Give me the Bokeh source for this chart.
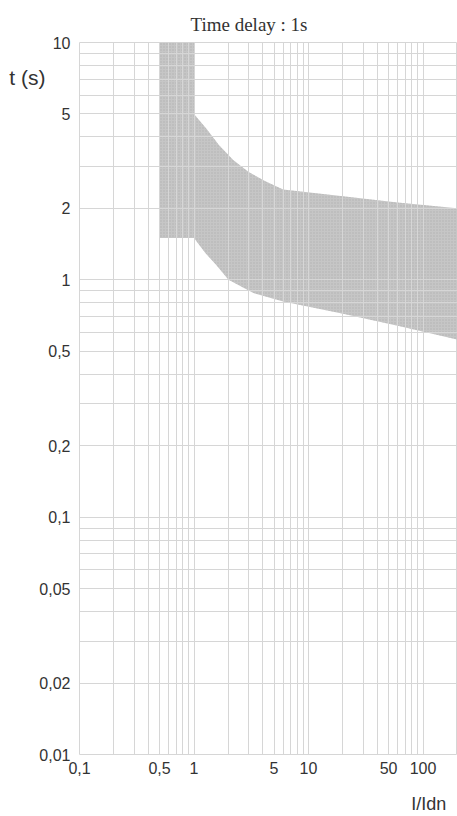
from bokeh.plotting import figure
from bokeh.models import FixedTicker, LogAxis
from bokeh.embed import file_html
from bokeh.resources import INLINE

# ---- data ----
x_ticks = [0.1, 0.5, 1, 5, 10, 50, 100]
x_tick_labels = ["0,1", "0,5", "1", "5", "10", "50", "100"]
y_ticks = [0.01, 0.02, 0.05, 0.1, 0.2, 0.5, 1, 2, 5, 10]
y_tick_labels = ["0,01", "0,02", "0,05", "0,1", "0,2", "0,5", "1", "2", "5", "10"]

grid_mults = [1, 2, 3, 4, 5, 6, 7, 8, 9]
x_decades = [0.1, 1, 10, 100]
y_decades = [0.01, 0.1, 1, 10]

# tripping band (upper and lower limits)
upper_x = [0.5, 1.0, 1.0, 1.3, 1.65, 2.2, 3.0, 4.2, 6.0, 20, 60, 200]
upper_t = [10, 10, 5.0, 4.3, 3.7, 3.2, 2.85, 2.6, 2.4, 2.25, 2.12, 2.0]
lower_x = [0.5, 1.0, 1.25, 1.55, 2.0, 3.3, 6.0, 20, 60, 200]
lower_t = [1.5, 1.5, 1.3, 1.16, 1.0, 0.88, 0.81, 0.72, 0.64, 0.56]

x_lim = (0.1, 200)
y_lim = (0.01, 10)

# axis titles and where they sit along their axes
y_title = "t (s)"
y_title_at = 7.1
x_title = "I/Idn"
x_title_at = 112

# ---- figure ----
p = figure(width=457, height=816, x_axis_type="log", y_axis_type="log",
           x_range=x_lim, y_range=y_lim, output_backend="svg",
           toolbar_location=None, min_border_left=79, min_border_right=0,
           min_border_top=42, min_border_bottom=62)
p.outline_line_color = "#d6d6d6"
p.background_fill_color = "white"
p.border_fill_color = "white"

band_x = upper_x + lower_x[::-1]
band_t = upper_t + lower_t[::-1]
p.patch(band_x, band_t, fill_color="#c6c6c6", line_color=None,
        hatch_pattern="dot", hatch_color="#9e9e9e", hatch_alpha=0.55,
        hatch_scale=3, hatch_weight=1)

grid_x = [d * m for d in x_decades for m in grid_mults if d * m <= x_lim[1]] + [200]
grid_y = [d * m for d in y_decades for m in grid_mults if d * m <= y_lim[1]]

p.xaxis.ticker = FixedTicker(ticks=x_ticks)
p.yaxis.ticker = FixedTicker(ticks=y_ticks)
p.xaxis.major_label_overrides = {t: l for t, l in zip(x_ticks, x_tick_labels)}
p.yaxis.major_label_overrides = {t: l for t, l in zip(y_ticks, y_tick_labels)}
p.xgrid.ticker = FixedTicker(ticks=grid_x)
p.ygrid.ticker = FixedTicker(ticks=grid_y)
for g in (p.xgrid, p.ygrid):
    g.grid_line_color = "#d6d6d6"
    g.grid_line_width = 1
    g.level = "overlay"

# extra axes that carry the axis titles at the reference positions
ax_t = LogAxis(ticker=FixedTicker(ticks=[y_title_at]),
               major_label_overrides={y_title_at: y_title})
ax_i = LogAxis(ticker=FixedTicker(ticks=[x_title_at]),
               major_label_overrides={x_title_at: x_title})
p.add_layout(ax_t, "left")
p.add_layout(ax_i, "below")

for ax in (p.xaxis[0], p.yaxis[0], ax_t, ax_i):
    ax.axis_line_color = None
    ax.major_tick_line_color = None
    ax.minor_tick_line_color = None
    ax.major_label_text_font = "Liberation Sans"
    ax.major_label_text_font_size = "16px"
    ax.major_label_text_color = "#333333"
p.xaxis[0].major_label_standoff = 1
p.yaxis[0].major_label_standoff = 3
ax_t.major_label_text_font_size = "21px"
ax_t.major_label_standoff = -15
ax_i.major_label_text_font_size = "18px"
ax_i.major_label_standoff = 11

p.title.text = "Time delay : 1s"
p.title.align = "left"
p.title.offset = 111
p.title.standoff = 16
p.title.text_font = "Liberation Serif"
p.title.text_font_size = "19px"
p.title.text_font_style = "normal"
p.title.text_color = "#333333"

open("out.html", "w").write(file_html(p, INLINE))
